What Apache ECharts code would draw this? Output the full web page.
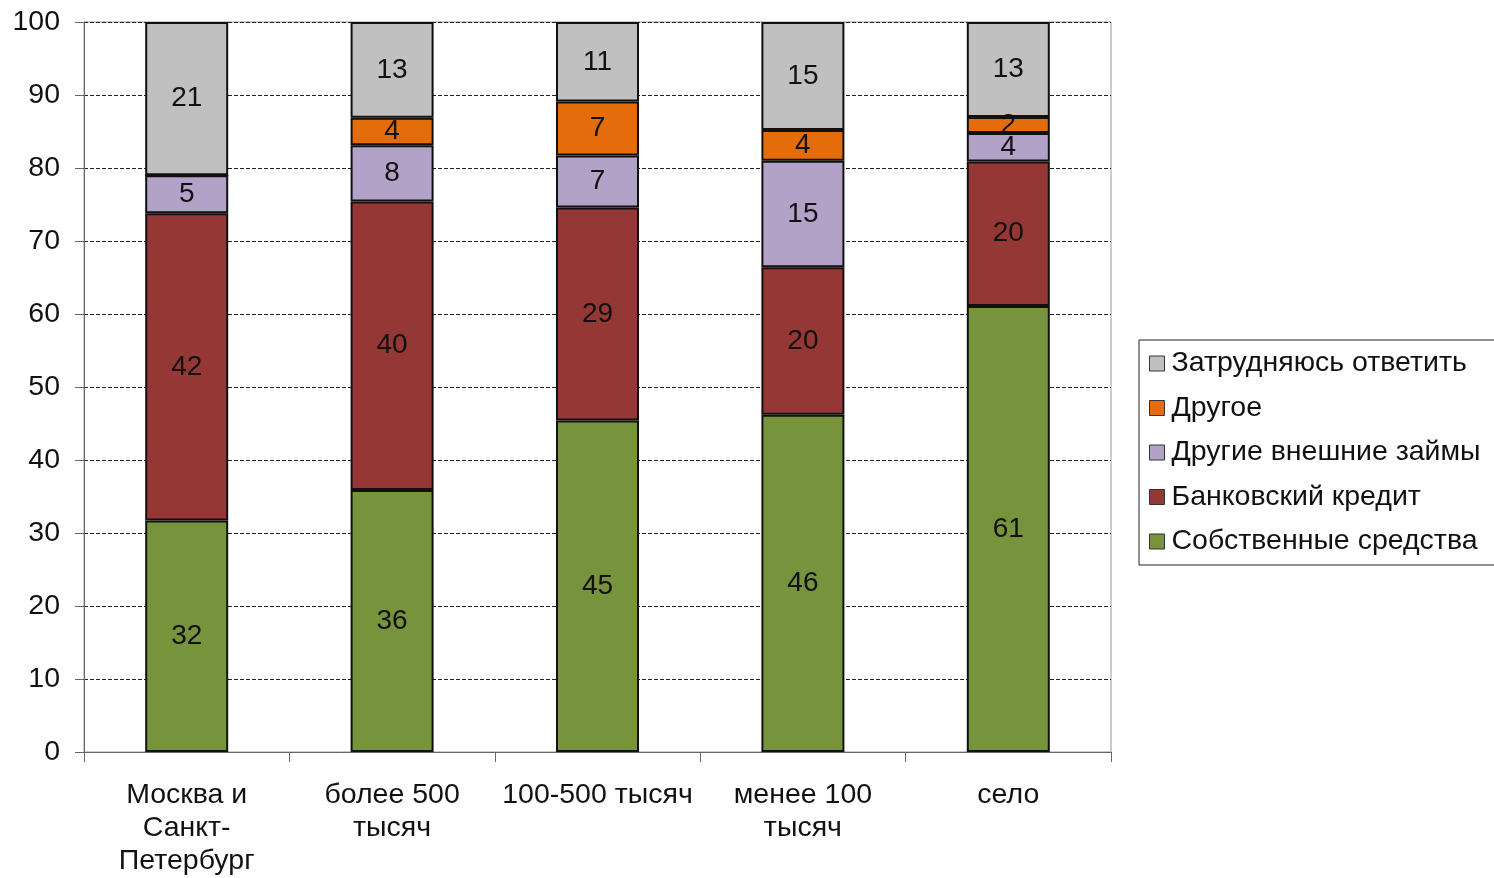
<!DOCTYPE html>
<html>
<head>
<meta charset="utf-8">
<script src="https://cdn.jsdelivr.net/npm/echarts@6/dist/echarts.min.js"></script>
<style>html,body{margin:0;padding:0;background:#fff}#c{width:1494px;height:878px}</style>
</head>
<body>
<div id="c"></div>
<script>
var categories = ['Москва и\nСанкт-\nПетербург', 'более 500\nтысяч', '100-500 тысяч', 'менее 100\nтысяч', 'село'];
var own = [31.7, 35.9, 45.4, 46.2, 61.1];
var bank = [42.1, 39.5, 29.2, 20.2, 19.8];
var otherLoans = [5.2, 7.7, 7.1, 14.6, 3.9];
var other = [0, 3.8, 7.4, 4.2, 2.2];
var hard = [21.0, 13.1, 10.9, 14.8, 13.0];
var seriesNames = ['Собственные средства', 'Банковский кредит', 'Другие внешние займы', 'Другое', 'Затрудняюсь ответить'];
var yTicks = [0, 10, 20, 30, 40, 50, 60, 70, 80, 90, 100];

var colors = ['#77933C', '#953735', '#B3A2C7', '#E46C0A', '#C0C0C0'];
var dataSets = [own, bank, otherLoans, other, hard];
var font = '"Liberation Sans", Arial, sans-serif';

var series = dataSets.map(function (d, i) {
  return {
    name: seriesNames[i],
    type: 'bar',
    stack: 'total',
    barWidth: 83,
    data: d,
    itemStyle: { color: colors[i], borderColor: '#111', borderWidth: 2 },
    label: {
      show: true,
      position: 'inside',
      color: '#111',
      fontSize: 28,
      fontFamily: font,
      formatter: function (p) { return p.value > 0 ? Math.round(p.value) : ''; }
    }
  };
});

var chart = echarts.init(document.getElementById('c'));
chart.setOption({
  animation: false,
  grid: { left: 84, right: 383, top: 22, bottom: 115, show: true, borderColor: '#999', borderWidth: 1 },
  legend: {
    orient: 'vertical',
    left: 1139,
    top: 340,
    data: seriesNames.slice().reverse(),
    icon: 'rect',
    itemWidth: 15,
    itemHeight: 15,
    itemGap: 15.5,
    padding: [9, 14, 9, 10],
    borderColor: '#222',
    borderWidth: 1,
    itemStyle: { borderColor: '#333', borderWidth: 1 },
    textStyle: { fontSize: 28.5, fontFamily: font, color: '#111', padding: [0, 0, 0, 2] }
  },
  xAxis: {
    type: 'category',
    data: categories,
    axisLine: { lineStyle: { color: '#666', width: 1 } },
    axisTick: { show: true, length: 10, lineStyle: { color: '#666' } },
    axisLabel: { fontSize: 28.5, fontFamily: font, color: '#111', lineHeight: 33, margin: 27, interval: 0 }
  },
  yAxis: {
    type: 'value',
    min: 0,
    max: 100,
    interval: 10,
    axisLine: { show: true, lineStyle: { color: '#666', width: 1 } },
    axisTick: { show: true, length: 9, lineStyle: { color: '#666' } },
    axisLabel: {
      fontSize: 28.5, fontFamily: font, color: '#111', margin: 24,
      formatter: function (v) { return yTicks.indexOf(v) >= 0 ? String(v) : ''; }
    },
    splitLine: { show: true, lineStyle: { color: '#222', type: [4, 2], width: 1 } }
  },
  series: series
});
</script>
</body>
</html>
